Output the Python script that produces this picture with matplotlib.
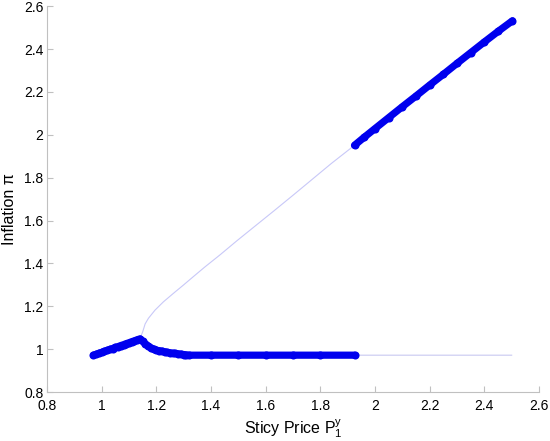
import matplotlib
matplotlib.use('Agg')
from matplotlib import pyplot as plt

plt.rcParams['font.family'] = ['Liberation Sans', 'DejaVu Sans']

# stable part of the lower branch (thick markers)
low_x = [0.97, 0.98, 0.99, 1.00, 1.01, 1.02, 1.03, 1.04, 1.05, 1.06, 1.07, 1.08, 1.09, 1.10,
         1.11, 1.12, 1.13, 1.14, 1.15, 1.16, 1.17, 1.18, 1.19, 1.20, 1.21, 1.22, 1.23, 1.24,
         1.25, 1.26, 1.27, 1.28, 1.29, 1.30, 1.31, 1.32, 1.40, 1.50, 1.60, 1.70, 1.80, 1.925]
low_y = [0.972, 0.976, 0.981, 0.985, 0.990, 0.994, 0.999, 1.003, 1.008, 1.012, 1.017, 1.021,
         1.026, 1.030, 1.035, 1.039, 1.044, 1.048, 1.036, 1.024, 1.015, 1.006, 1.000, 0.995,
         0.993, 0.991, 0.988, 0.985, 0.983, 0.981, 0.980, 0.978, 0.977, 0.975, 0.973, 0.972,
         0.972, 0.972, 0.972, 0.972, 0.972, 0.972]

# stable part of the upper branch (thick markers)
up_x = [1.925, 1.96, 2.00, 2.05, 2.10, 2.15, 2.20, 2.25, 2.30, 2.35, 2.40, 2.45, 2.503]
up_y = [1.951, 1.988, 2.029, 2.080, 2.131, 2.181, 2.232, 2.282, 2.333, 2.383, 2.433, 2.482, 2.532]

# full solution curve (thin line)
curve_low_x = low_x + [2.10, 2.30, 2.50]
curve_low_y = low_y + [0.972, 0.972, 0.972]
curve_up_x = [1.140, 1.144, 1.150, 1.159, 1.171, 1.195, 1.226, 1.262, 1.299, 1.335, 1.378,
              1.433, 1.494, 1.56, 1.63, 1.70, 1.77, 1.84, 1.925, 2.10, 2.30, 2.503]
curve_up_y = [1.048, 1.062, 1.081, 1.118, 1.144, 1.182, 1.221, 1.260, 1.299, 1.338, 1.384,
              1.440, 1.505, 1.573, 1.645, 1.718, 1.792, 1.866, 1.951, 2.131, 2.333, 2.532]

fig = plt.figure(figsize=(5.5, 4.41), dpi=100)
ax = fig.add_axes([0.0855, 0.111, 0.8945, 0.875])

ax.plot(curve_low_x, curve_low_y, color='#c8c8f0', lw=0.8)
ax.plot(curve_up_x, curve_up_y, color='#c8c8f8', lw=0.8)

for xs, ys in [(low_x, low_y), (up_x, up_y)]:
    ax.plot(xs, ys, color='#0000ee', lw=5.2, marker='o', ms=5.8, mew=0,
            solid_capstyle='round', solid_joinstyle='round')

ax.set_xlim(0.8, 2.6)
ax.set_ylim(0.8, 2.6)
ticks = [0.8, 1, 1.2, 1.4, 1.6, 1.8, 2, 2.2, 2.4, 2.6]
tick_labels = ['0.8', '1', '1.2', '1.4', '1.6', '1.8', '2', '2.2', '2.4', '2.6']
ax.set_xticks(ticks)
ax.set_xticklabels(tick_labels)
ax.set_yticks(ticks)
ax.set_yticklabels(tick_labels)

for s in ['top', 'right']:
    ax.spines[s].set_visible(False)
for s in ['left', 'bottom']:
    ax.spines[s].set_color('#c0c0c0')
ax.tick_params(direction='in', length=4, color='#c0c0c0', labelsize=10)
ax.tick_params(axis='x', pad=5)
ax.tick_params(axis='y', pad=2.5)

ax.set_xlabel('Sticy Price P$\\mathregular{_1^y}$', fontsize=11.5, labelpad=3)
ax.set_ylabel('Inflation \u03c0', fontsize=11.5)
ax.yaxis.set_label_coords(-0.062, 0.474)

fig.savefig('out.png', dpi=100)
